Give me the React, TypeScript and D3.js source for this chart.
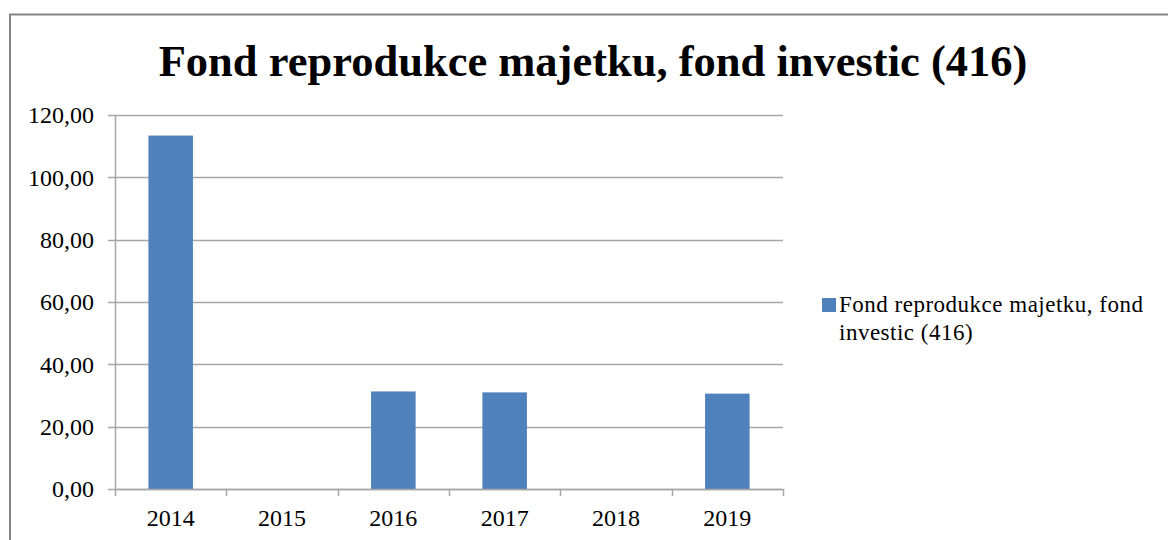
import React, { useEffect, useRef } from 'react';
import * as d3 from 'd3';

const years = ['2014', '2015', '2016', '2017', '2018', '2019'];
const values = [113.4, 0, 31.3, 31.0, 0, 30.6];
const yTicks = [0, 20, 40, 60, 80, 100, 120];
const title = 'Fond reprodukce majetku, fond investic (416)';
const legendLines = ['Fond reprodukce majetku, fond', 'investic (416)'];

const App = () => {
  const svgRef = useRef<SVGSVGElement>(null);

  useEffect(() => {
    const width = 1168;
    const height = 540;
    const margin = { top: 115, right: 385, bottom: 51, left: 115 };
    const innerWidth = width - margin.left - margin.right;
    const innerHeight = height - margin.top - margin.bottom;
    const font = '"Liberation Serif", "Times New Roman", serif';

    const svg = d3.select(svgRef.current).attr('width', width).attr('height', height);
    svg.selectAll('*').remove();

    svg.append('rect').attr('width', width).attr('height', height).attr('fill', '#fff');

    // chart border (only top and left visible)
    svg.append('path')
      .attr('d', `M10,${height + 5} L10,14.5 L${width + 5},14.5`)
      .attr('fill', 'none')
      .attr('stroke', '#858585')
      .attr('stroke-width', 2);

    svg.append('text')
      .attr('x', 593)
      .attr('y', 76)
      .attr('text-anchor', 'middle')
      .style('font-family', font)
      .style('font-weight', 'bold')
      .style('font-size', '44.5px')
      .text(title);

    const g = svg.append('g').attr('transform', `translate(${margin.left},${margin.top})`);

    const x = d3.scaleBand().domain(years).range([0, innerWidth]).paddingInner(0).paddingOuter(0);
    const y = d3.scaleLinear().domain([0, 120]).range([innerHeight, 0]);

    // gridlines
    g.selectAll('.grid')
      .data(yTicks)
      .enter()
      .append('line')
      .attr('x1', -7)
      .attr('x2', innerWidth)
      .attr('y1', d => Math.round(y(d)) + 0.5)
      .attr('y2', d => Math.round(y(d)) + 0.5)
      .attr('stroke', '#a6a6a6')
      .attr('stroke-width', 1.5);

    // y labels
    g.selectAll('.ylab')
      .data(yTicks)
      .enter()
      .append('text')
      .attr('x', -21)
      .attr('y', d => y(d))
      .attr('dy', '0.35em')
      .attr('text-anchor', 'end')
      .style('font-family', font)
      .style('font-size', '24px')
      .text(d => d3.format('.2f')(d).replace('.', ','));

    // bars
    const barW = x.bandwidth() / 2.5;
    g.selectAll('.bar')
      .data(values)
      .enter()
      .append('rect')
      .attr('x', (d, i) => (x(years[i]) as number) + (x.bandwidth() - barW) / 2)
      .attr('y', d => y(d))
      .attr('width', barW)
      .attr('height', d => innerHeight - y(d))
      .attr('fill', '#4f81bd');

    // y axis line
    g.append('line')
      .attr('x1', 0.5).attr('x2', 0.5)
      .attr('y1', 0).attr('y2', innerHeight)
      .attr('stroke', '#a6a6a6')
      .attr('stroke-width', 1.5);

    // x axis line + ticks
    g.append('line')
      .attr('x1', 0).attr('x2', innerWidth)
      .attr('y1', innerHeight + 0.5).attr('y2', innerHeight + 0.5)
      .attr('stroke', '#a6a6a6')
      .attr('stroke-width', 1.5);

    const tickXs = years.map(d => x(d) as number).concat([innerWidth]);
    g.selectAll('.xtick')
      .data(tickXs)
      .enter()
      .append('line')
      .attr('x1', d => Math.round(d) + 0.5)
      .attr('x2', d => Math.round(d) + 0.5)
      .attr('y1', innerHeight)
      .attr('y2', innerHeight + 7)
      .attr('stroke', '#a6a6a6')
      .attr('stroke-width', 1.5);

    g.selectAll('.xlab')
      .data(years)
      .enter()
      .append('text')
      .attr('x', d => (x(d) as number) + x.bandwidth() / 2)
      .attr('y', innerHeight + 37)
      .attr('text-anchor', 'middle')
      .style('font-family', font)
      .style('font-size', '24px')
      .text(d => d);

    // legend
    const lg = svg.append('g');
    lg.append('rect')
      .attr('x', 822)
      .attr('y', 298)
      .attr('width', 14)
      .attr('height', 14)
      .attr('fill', '#4f81bd');
    lg.selectAll('text')
      .data(legendLines)
      .enter()
      .append('text')
      .attr('x', 839)
      .attr('y', (d, i) => 312 + i * 28)
      .style('font-family', font)
      .style('font-size', '23px')
      .style('letter-spacing', '0.5px')
      .text(d => d);
  }, []);

  return (
    <div style={{ position: 'fixed', left: 0, top: 0 }}>
      <svg ref={svgRef}></svg>
    </div>
  );
};

export default App;
